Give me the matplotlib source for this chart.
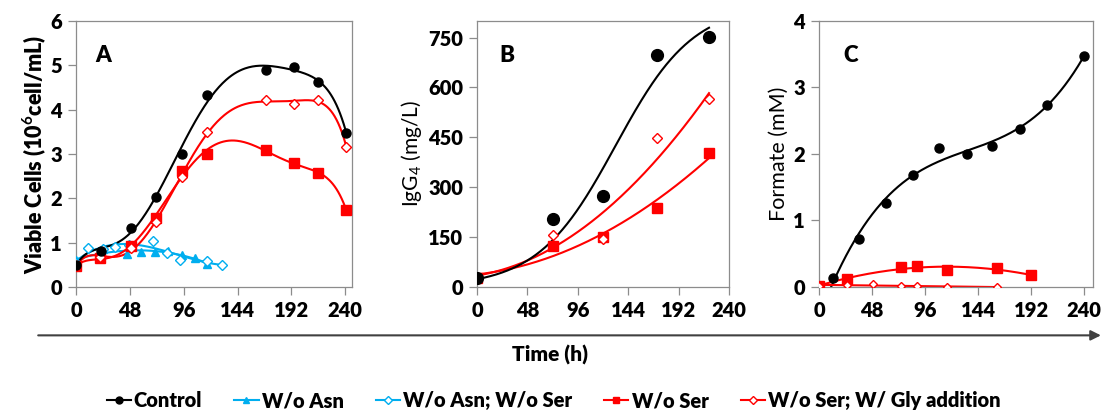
import numpy as np
import matplotlib
matplotlib.use("Agg")
import matplotlib.pyplot as plt
from numpy.polynomial import Polynomial

# ----------- FONTS ------------
plt.rcParams["font.family"] = ["Lato", "DejaVu Sans"]
plt.rcParams["mathtext.fontset"] = "custom"
plt.rcParams["mathtext.rm"] = "Lato"
plt.rcParams["mathtext.bf"] = "Lato:bold"

# ----------- DATA ------------
# Panel A: viable cells (10^6 cell/mL)
a_ctrl_t = [0, 22, 49, 71, 94, 117, 169, 194, 216, 241]
a_ctrl_v = [0.50, 0.82, 1.33, 2.02, 3.00, 4.33, 4.90, 4.96, 4.63, 3.47]
a_ser_t = [0, 21, 49, 71, 94, 117, 169, 194, 216, 241]
a_ser_v = [0.47, 0.65, 0.92, 1.55, 2.62, 3.00, 3.09, 2.79, 2.57, 1.73]
a_gly_t = [0, 21, 49, 71, 94, 117, 169, 194, 216, 241]
a_gly_v = [0.47, 0.67, 0.88, 1.46, 2.48, 3.49, 4.22, 4.13, 4.22, 3.15]
a_asn_t = [0, 24, 45, 58, 70, 82, 94, 106, 117]
a_asn_v = [0.60, 0.85, 0.75, 0.80, 0.80, 0.82, 0.72, 0.65, 0.52]
a_asnser_t = [0, 11, 24, 35, 47, 69, 81, 93, 117, 130]
a_asnser_v = [0.55, 0.88, 0.85, 0.90, 0.95, 1.04, 0.76, 0.62, 0.59, 0.49]

# Panel B: IgG4 (mg/L)
b_t = [0, 72, 120, 171, 221]
b_ctrl_v = [27, 205, 274, 697, 752]
b_ser_v = [27, 124, 150, 237, 402]
b_gly_v = [30, 157, 144, 447, 564]

# Panel C: formate (mM)
c_ctrl_t = [13, 36, 61, 85, 109, 134, 157, 182, 206, 240]
c_ctrl_v = [0.14, 0.72, 1.27, 1.68, 2.09, 2.00, 2.12, 2.38, 2.74, 3.48]
c_ser_t = [0, 25, 74, 89, 116, 161, 192]
c_ser_v = [0.02, 0.12, 0.30, 0.31, 0.25, 0.28, 0.18]
c_gly_t = [0, 25, 49, 74, 89, 116, 161]
c_gly_v = [0.02, 0.03, 0.04, 0.02, 0.01, 0.00, 0.00]

x_ticks = [0, 48, 96, 144, 192, 240]
legend_labels = ["Control", "W/o Asn", "W/o Asn; W/o Ser", "W/o Ser",
                 "W/o Ser; W/ Gly addition"]

BLACK = "#000000"
BLUE = "#00AEEF"
RED = "#FF0000"
GRAY = "#8C8C8C"
WEIGHT = "heavy"


# ----------- HELPERS ------------
def poly_curve(t, v, deg, t0=None, w=None):
    p = Polynomial.fit(t, v, deg, w=w)
    tt = np.linspace(min(t) if t0 is None else t0, max(t), 300)
    return tt, p(tt)


def logistic_curve(t, v):
    # least squares logistic K/(1+exp(-r(t-tm))), K solved for each (r, tm)
    t = np.asarray(t, float)
    v = np.asarray(v, float)
    best = None
    for r in np.linspace(0.005, 0.08, 151):
        for tm in np.linspace(60, 220, 161):
            s = 1 / (1 + np.exp(-r * (t - tm)))
            k = (s @ v) / (s @ s)
            err = np.sum((k * s - v) ** 2)
            if best is None or err < best[0]:
                best = (err, r, tm, k)
    _, r, tm, k = best
    tt = np.linspace(t.min(), t.max(), 300)
    return tt, k / (1 + np.exp(-r * (tt - tm)))


def style_axes(ax, xmax, ymax, yticks):
    ax.set_xlim(0, xmax)
    ax.set_ylim(0, ymax)
    ax.set_xticks(x_ticks)
    ax.set_yticks(yticks)
    for s in ax.spines.values():
        s.set_color(GRAY)
        s.set_linewidth(0.9)
    ax.tick_params(direction="out", length=6, width=0.9, color=GRAY,
                   labelsize=14.5, pad=4)
    for lab in ax.get_xticklabels() + ax.get_yticklabels():
        lab.set_fontweight(WEIGHT)


def series(ax, t, v, curve, color, marker, ms, filled=True, lw=1.5):
    ax.plot(curve[0], curve[1], color=color, lw=lw, zorder=2)
    ax.plot(t, v, ls="none", marker=marker, ms=ms, color=color,
            markerfacecolor=color if filled else "white",
            markeredgewidth=1.0, zorder=3)


# ----------- FIGURE ------------
fig = plt.figure(figsize=(11.07, 4.13), dpi=100)
axA = fig.add_axes([0.0687, 0.3051, 0.2493, 0.6441])
axB = fig.add_axes([0.4309, 0.3051, 0.2276, 0.6441])
axC = fig.add_axes([0.7398, 0.3051, 0.2475, 0.6441])

# Panel A
series(axA, a_asn_t, a_asn_v, poly_curve(a_asn_t, a_asn_v, 3), BLUE, "^", 6)
series(axA, a_asnser_t, a_asnser_v, poly_curve(a_asnser_t, a_asnser_v, 3),
       BLUE, "D", 5, filled=False)
series(axA, a_ser_t, a_ser_v, poly_curve(a_ser_t, a_ser_v, 6), RED, "s", 6.5)
series(axA, a_gly_t, a_gly_v, poly_curve(a_gly_t, a_gly_v, 6), RED, "D", 5,
       filled=False)
series(axA, a_ctrl_t, a_ctrl_v, poly_curve(a_ctrl_t, a_ctrl_v, 6), BLACK, "o", 6.5)
style_axes(axA, 246, 6, [0, 1, 2, 3, 4, 5, 6])
axA.set_ylabel("Viable Cells (10$^{\\mathbf{6}}$cell/mL)", fontsize=15.5,
               fontweight=WEIGHT, labelpad=2)
axA.text(0.07, 0.91, "A", transform=axA.transAxes, fontsize=16,
         fontweight=WEIGHT, va="top")

# Panel B
series(axB, b_t, b_ser_v, poly_curve(b_t, b_ser_v, 2), RED, "s", 6.5)
series(axB, b_t, b_gly_v, poly_curve(b_t, b_gly_v, 2), RED, "D", 5, filled=False)
series(axB, b_t, b_ctrl_v, logistic_curve(b_t, b_ctrl_v), BLACK, "o", 8.5)
style_axes(axB, 240, 800, [0, 150, 300, 450, 600, 750])
axB.set_ylabel("IgG$_4$ (mg/L)", fontsize=15, labelpad=3)
axB.text(0.09, 0.91, "B", transform=axB.transAxes, fontsize=16,
         fontweight=WEIGHT, va="top")

# Panel C
series(axC, c_ctrl_t, c_ctrl_v, poly_curve(c_ctrl_t, c_ctrl_v, 3, t0=5), BLACK,
       "o", 6.5)
series(axC, c_ser_t, c_ser_v, poly_curve(c_ser_t, c_ser_v, 2), RED, "s", 6.5)
series(axC, c_gly_t, c_gly_v, poly_curve(c_gly_t, c_gly_v, 1), RED, "D", 4.5,
       filled=False)
style_axes(axC, 248, 4, [0, 1, 2, 3, 4])
axC.set_ylabel("Formate (mM)", fontsize=15.5, labelpad=3)
axC.text(0.09, 0.91, "C", transform=axC.transAxes, fontsize=16,
         fontweight=WEIGHT, va="top")

# ----------- SHARED TIME AXIS ------------
fig.patches.append(matplotlib.patches.FancyArrowPatch(
    (0.032, 0.188), (0.997, 0.188), transform=fig.transFigure,
    arrowstyle="-|>,head_length=6,head_width=3", color="#404040", lw=1.5))
fig.text(0.497, 0.14, "Time (h)", ha="center", va="center", fontsize=15,
         fontweight=WEIGHT)

# ----------- LEGEND ------------
handles = [
    plt.Line2D([], [], color=BLACK, marker="o", ms=5, lw=1.5),
    plt.Line2D([], [], color=BLUE, marker="^", ms=5, lw=1.5),
    plt.Line2D([], [], color=BLUE, marker="D", ms=4, lw=1.5,
               markerfacecolor="white"),
    plt.Line2D([], [], color=RED, marker="s", ms=5, lw=1.5),
    plt.Line2D([], [], color=RED, marker="D", ms=4, lw=1.5,
               markerfacecolor="white"),
]
fig.legend(handles, legend_labels, loc="center", bbox_to_anchor=(0.5, 0.03),
           ncol=5, frameon=False, handlelength=1.2, handletextpad=0.15,
           columnspacing=1.6, prop={"size": 14.5, "weight": WEIGHT})

fig.savefig("out.png", dpi=100)
